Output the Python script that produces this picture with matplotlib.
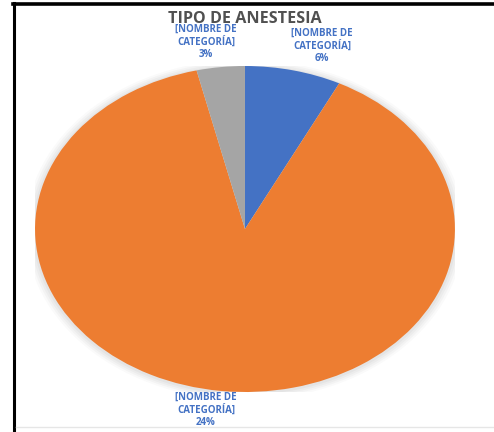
import matplotlib
matplotlib.use("Agg")
import matplotlib.pyplot as plt
from matplotlib.patches import Ellipse
from matplotlib.lines import Line2D

title = "TIPO DE ANESTESIA"
categories = ["A", "B", "C"]
values = [2, 24, 1]
label_texts = ["[NOMBRE DE\nCATEGORÍA]\n6%", "[NOMBRE DE\nCATEGORÍA]\n24%", "[NOMBRE DE\nCATEGORÍA]\n3%"]
colors = ["#4472C4", "#ED7D31", "#A5A5A5"]
label_pos = [(0.367, 1.123), (-0.186, -1.110), (-0.186, 1.147)]

fig = plt.figure(figsize=(4.94, 4.32), dpi=100)
fig.patch.set_facecolor("white")
ax = fig.add_axes([0.0709, 0.0926, 0.850, 0.7546])

# soft shadow halo
for i, a in enumerate([0.04, 0.05, 0.06, 0.07]):
    s = 2.0 + 0.022 * (4 - i)
    ax.add_patch(Ellipse((0, -0.005), s, s, facecolor="#808080", edgecolor="none", alpha=a, zorder=0))

ax.pie(values, colors=colors, startangle=90, counterclock=False,
       wedgeprops=dict(linewidth=0, edgecolor="none"), radius=1.0)
ax.set_aspect("auto")
ax.set_xlim(-1, 1)
ax.set_ylim(-1, 1)
ax.axis("off")

for txt, (x, y) in zip(label_texts, label_pos):
    ax.text(x, y, txt, ha="center", va="center", color="#4472C4",
            fontsize=7.0, fontweight="bold", family="Open Sans",
            linespacing=1.15, clip_on=False)

fig.text(0.496, 0.955, title, ha="center", va="center", color="#505050",
         fontsize=11.6, fontweight="bold", family="Open Sans")

# frame lines
fig.add_artist(Line2D([13/494, 1], [1 - 4/432, 1 - 4/432], color="black", lw=2.6, transform=fig.transFigure))
fig.add_artist(Line2D([14/494, 14/494], [0, 1 - 3/432], color="black", lw=2.2, transform=fig.transFigure))
fig.add_artist(Line2D([16/494, 1], [5/432, 5/432], color="#e6e6e6", lw=1.0, transform=fig.transFigure))

fig.savefig("out.png", dpi=100)
